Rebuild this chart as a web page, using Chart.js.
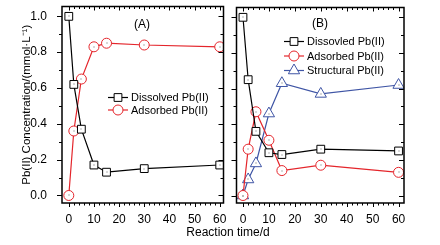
<!DOCTYPE html>
<html>
<head>
<meta charset="utf-8">
<script src="https://cdn.jsdelivr.net/npm/chart.js@4.4.1/dist/chart.umd.min.js"></script>
<style>
  body { margin: 0; background: #fff; width: 440px; height: 245px; overflow: hidden; position: relative; font-family: "Liberation Sans", Arial, sans-serif; }
  #wrapA { position: absolute; left: 0; top: 0; width: 230px; height: 245px; }
  #wrapB { position: absolute; left: 229px; top: 0; width: 211px; height: 245px; }
  #xTitle { position: absolute; left: 178px; width: 100px; top: 225px; text-align: center; font-size: 12px; color: #000; white-space: nowrap; }
</style>
</head>
<body>
<div id="wrapA"><canvas id="chartA"></canvas></div>
<div id="wrapB"><canvas id="chartB"></canvas></div>
<div id="xTitle">Reaction time/d</div>
<script>
// reaction times (d)
const days = [0, 2, 5, 10, 15, 30, 60];
const xTicks = [0, 10, 20, 30, 40, 50, 60];
const yTicks = [0.0, 0.2, 0.4, 0.6, 0.8, 1.0];

// panel A
const dissolvedA = [1.0, 0.62, 0.37, 0.17, 0.13, 0.15, 0.17];
const adsorbedA  = [0.0, 0.36, 0.65, 0.83, 0.85, 0.84, 0.83];

// panel B
const dissolvedB  = [1.0, 0.65, 0.36, 0.24, 0.23, 0.26, 0.25];
const adsorbedB   = [0.0, 0.26, 0.47, 0.31, 0.14, 0.17, 0.13];
const structuralB = [0.0, 0.09, 0.18, 0.46, 0.63, 0.57, 0.62];

const BLACK = '#000000';
const RED = '#e4252b';
const BLUE = '#3f55a5';
const FONT = '"Liberation Sans", Arial, sans-serif';

function series(label, values, color, shape, r) {
    return {
        label: label,
        data: days.map((d, i) => ({ x: d, y: values[i] })),
        borderColor: color,
        backgroundColor: '#ffffff',
        pointBorderColor: color,
        pointBackgroundColor: '#ffffff',
        pointStyle: shape,
        pointRadius: r,
        pointBorderWidth: 1,
        borderWidth: 1.2,
        tension: 0
    };
}

// frame, ticks, legend and panel label
const framePlugin = {
    id: 'frame',
    afterDatasetsDraw(chart, args, opts) {
        const ctx = chart.ctx;
        const a = chart.chartArea;
        const xs = chart.scales.x, ys = chart.scales.y;
        ctx.save();

        // small centre dots like Origin markers
        chart.data.datasets.forEach((ds, i) => {
            chart.getDatasetMeta(i).data.forEach(pt => {
                ctx.fillStyle = '#666';
                ctx.fillRect(Math.round(pt.x) - 0.5, Math.round(pt.y) - 0.5, 1, 1);
            });
        });

        ctx.strokeStyle = '#000';
        ctx.lineWidth = 1.5;
        ctx.strokeRect(a.left, a.top, a.right - a.left, a.bottom - a.top);

        ctx.lineWidth = 1;
        ctx.beginPath();
        // x ticks: bottom outward, top inward
        for (let v = 0; v <= 60; v += 2) {
            const px = Math.round(xs.getPixelForValue(v)) + 0.5;
            const len = v % 10 === 0 ? 4 : 2.5;
            ctx.moveTo(px, a.bottom); ctx.lineTo(px, a.bottom + len);
            ctx.moveTo(px, a.top); ctx.lineTo(px, a.top + len);
        }
        // y ticks: left outward, right inward
        for (let k = 0; k <= 10; k++) {
            const v = k / 10;
            const py = Math.round(ys.getPixelForValue(v)) + 0.5;
            const len = k % 2 === 0 ? 5 : 3;
            ctx.moveTo(a.left, py); ctx.lineTo(a.left - len, py);
            ctx.moveTo(a.right, py); ctx.lineTo(a.right - len, py);
        }
        ctx.stroke();

        // panel label
        ctx.fillStyle = '#000';
        ctx.font = '12px ' + FONT;
        ctx.textAlign = 'center';
        ctx.textBaseline = 'middle';
        ctx.fillText(opts.tag, opts.tagX, opts.tagY);

        // legend
        ctx.font = '11px ' + FONT;
        ctx.textAlign = 'left';
        chart.data.datasets.forEach((ds, i) => {
            const y = opts.legY + i * opts.legGap;
            ctx.strokeStyle = ds.borderColor;
            ctx.lineWidth = 1.2;
            ctx.beginPath();
            ctx.moveTo(opts.legX, y);
            ctx.lineTo(opts.legX + opts.legW, y);
            ctx.stroke();
            ctx.fillStyle = '#fff';
            ctx.lineWidth = 1;
            Chart.helpers.drawPoint(ctx, {
                pointStyle: ds.pointStyle,
                radius: ds.pointRadius,
                borderWidth: 1,
                rotation: 0
            }, opts.legX + opts.legW / 2, y);
            ctx.fillStyle = '#000';
            ctx.fillText(ds.label, opts.legX + opts.legW + 3, y + 0.5);
        });
        ctx.restore();
    }
};

function makeOptions(xMin, xMax, showY, pad, frame) {
    return {
        responsive: true,
        maintainAspectRatio: false,
        animation: false,
        layout: { padding: pad },
        plugins: { legend: { display: false }, tooltip: { enabled: false }, frame: frame },
        scales: {
            x: {
                type: 'linear',
                min: xMin,
                max: xMax,
                grid: { display: false },
                border: { display: false },
                afterBuildTicks: s => { s.ticks = xTicks.map(v => ({ value: v })); },
                afterFit: s => { s.height = 42; s.paddingLeft = 0; s.paddingRight = 0; },
                ticks: {
                    autoSkip: false, maxRotation: 0, padding: 1, color: '#000',
                    font: { family: FONT, size: 12 },
                    callback: v => String(v)
                }
            },
            y: {
                type: 'linear',
                min: -0.042,
                max: 1.055,
                grid: { display: false },
                border: { display: false },
                afterBuildTicks: s => { s.ticks = yTicks.map(v => ({ value: v })); },
                afterFit: s => { s.width = showY ? 62 : 0; s.paddingTop = 0; s.paddingBottom = 0; },
                title: {
                    display: showY,
                    text: 'Pb(II) Concentration/(mmol·L⁻¹)',
                    color: '#000',
                    font: { family: FONT, size: 11.5 },
                    padding: { top: 20, bottom: 0 }
                },
                ticks: {
                    display: showY, padding: 7, color: '#000',
                    font: { family: FONT, size: 12 },
                    callback: v => v.toFixed(1)
                }
            }
        }
    };
}

new Chart(document.getElementById('chartA'), {
    type: 'line',
    data: {
        datasets: [
            series('Dissolved Pb(II)', dissolvedA, BLACK, 'rect', 5.5),
            series('Adsorbed Pb(II)', adsorbedA, RED, 'circle', 5)
        ]
    },
    options: makeOptions(-2.7, 61.5, true, { left: 0, right: 1, top: 6, bottom: 0 },
        { tag: '(A)', tagX: 142, tagY: 25, legX: 108, legY: 97.5, legGap: 12.5, legW: 20 }),
    plugins: [framePlugin]
});

new Chart(document.getElementById('chartB'), {
    type: 'line',
    data: {
        datasets: [
            series('Dissovled Pb(II)', dissolvedB, BLACK, 'rect', 5.5),
            series('Adsorbed Pb(II)', adsorbedB, RED, 'circle', 5),
            series('Structural Pb(II)', structuralB, BLUE, 'triangle', 6.5)
        ]
    },
    options: makeOptions(-2.5, 62.1, false, { left: 1, right: 36, top: 6, bottom: 0 },
        { tag: '(B)', tagX: 91, tagY: 24, legX: 55, legY: 41.5, legGap: 14.5, legW: 20 }),
    plugins: [framePlugin]
});
</script>
</body>
</html>
